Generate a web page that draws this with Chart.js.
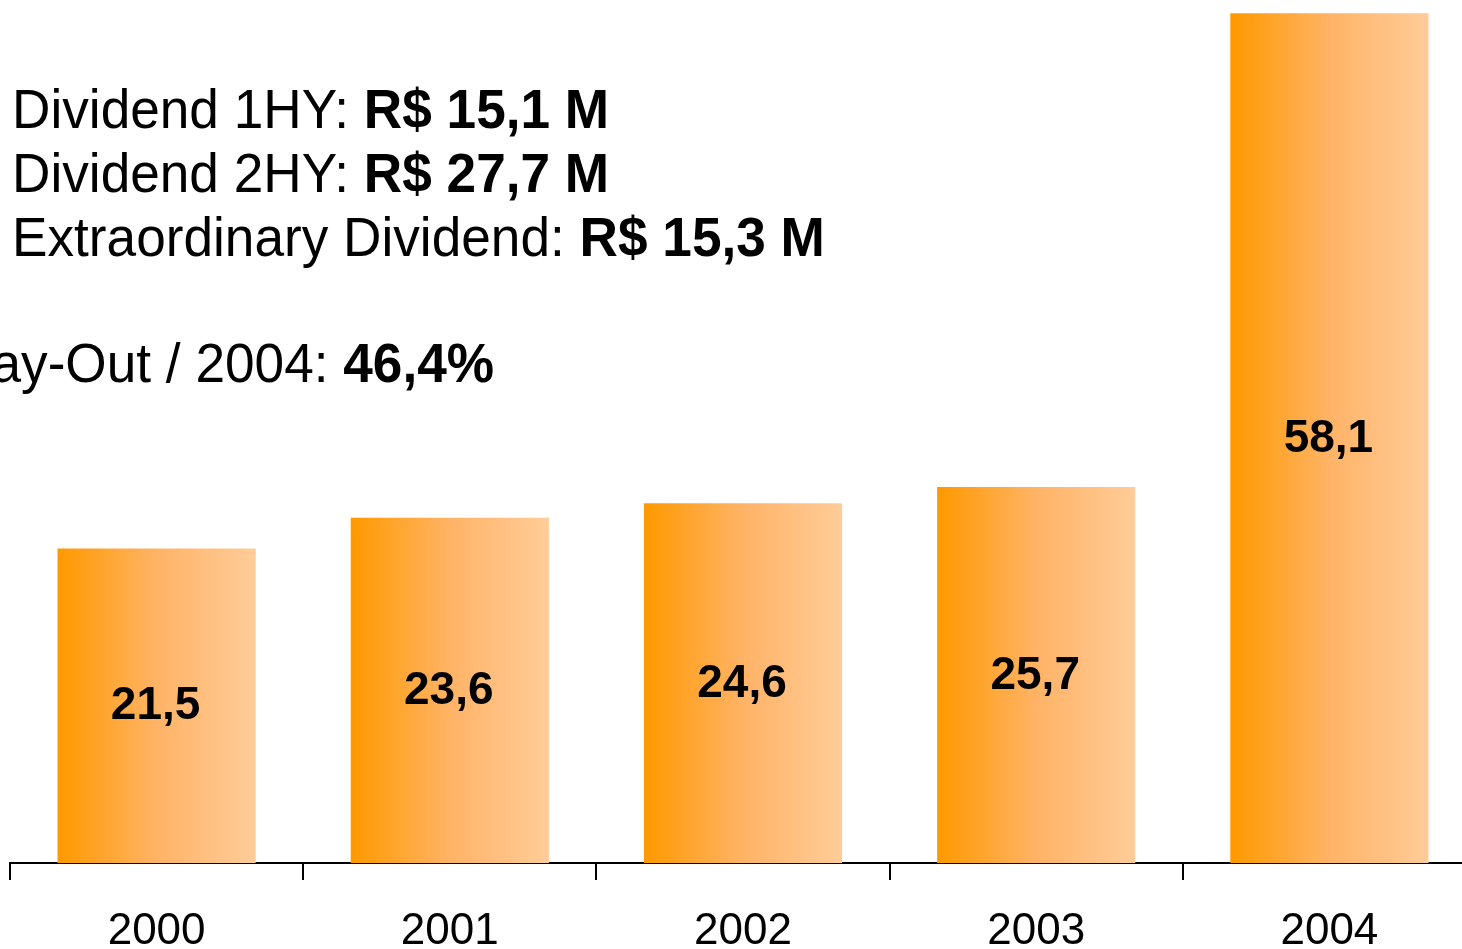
<!DOCTYPE html>
<html>
<head>
<meta charset="utf-8">
<script src="https://cdn.jsdelivr.net/npm/chart.js@4/dist/chart.umd.min.js"></script>
<style>
  html, body { margin: 0; padding: 0; background: #ffffff; overflow: hidden; width: 1462px; height: 949px; }
  #wrap { position: absolute; left: 0; top: 0; width: 1500px; height: 949px; }
  .txt { position: absolute; font-family: "Liberation Sans", Arial, sans-serif; font-size: 55px; line-height: 55px; color: #000; white-space: nowrap; transform: scaleX(0.967); transform-origin: 0 0; }
  .txt b { font-weight: bold; }
</style>
</head>
<body>
<div id="wrap"><canvas id="c"></canvas></div>
<div class="txt" style="left:12px; top:82px;">Dividend 1HY: <b>R$ 15,1 M</b></div>
<div class="txt" style="left:12px; top:146px;">Dividend 2HY: <b>R$ 27,7 M</b></div>
<div class="txt" style="left:12px; top:210px;">Extraordinary Dividend: <b>R$ 15,3 M</b></div>
<div class="txt" style="left:-44px; top:336px;">Pay-Out / 2004: <b>46,4%</b></div>
<script>
const years = ["2000", "2001", "2002", "2003", "2004"];
const dividends = [21.5, 23.6, 24.6, 25.7, 58.1];
const valueLabels = ["21,5", "23,6", "24,6", "25,7", "58,1"];

const FONT = '"Liberation Sans", Arial, sans-serif';
const CAT_PCT = 0.676;

function barGradient(ctx) {
  const chart = ctx.chart;
  const area = chart.chartArea;
  if (!area || ctx.type !== 'data') return '#FFA940';
  const xs = chart.scales.x;
  const cx = xs.getPixelForValue(ctx.dataIndex);
  const half = (xs.width / years.length) * CAT_PCT / 2;
  const g = chart.ctx.createLinearGradient(cx - half, 0, cx + half, 0);
  g.addColorStop(0, '#FF9900');
  g.addColorStop(0.5, '#FFB366');
  g.addColorStop(1, '#FFCC99');
  return g;
}

const valueLabelPlugin = {
  id: 'valueLabels',
  afterDatasetsDraw(chart) {
    const ctx = chart.ctx;
    const meta = chart.getDatasetMeta(0);
    ctx.save();
    ctx.font = 'bold 46px ' + FONT;
    ctx.fillStyle = '#000';
    ctx.textAlign = 'center';
    ctx.textBaseline = 'middle';
    meta.data.forEach((bar, i) => {
      const y = (bar.y + bar.base) / 2 + 1;
      ctx.fillText(valueLabels[i], bar.x - 1, y);
    });
    ctx.restore();
  }
};

new Chart(document.getElementById('c'), {
  type: 'bar',
  data: {
    labels: years,
    datasets: [{
      data: dividends,
      backgroundColor: barGradient,
      borderWidth: 0,
      categoryPercentage: CAT_PCT,
      barPercentage: 1
    }]
  },
  options: {
    responsive: true,
    maintainAspectRatio: false,
    animation: false,
    layout: { padding: { left: 10, right: 24, top: 0, bottom: 0 } },
    plugins: { legend: { display: false }, tooltip: { enabled: false } },
    scales: {
      x: {
        offset: true,
        grid: { display: true, drawOnChartArea: false, drawTicks: true, tickLength: 17, color: '#000', lineWidth: 2 },
        border: { display: true, color: '#000', width: 2 },
        ticks: { color: '#000', font: { family: FONT, size: 44 }, padding: 25 },
        afterFit(scale) { scale.height = 86; }
      },
      y: {
        display: false,
        min: 0,
        max: 59
      }
    }
  },
  plugins: [valueLabelPlugin]
});
</script>
</body>
</html>
